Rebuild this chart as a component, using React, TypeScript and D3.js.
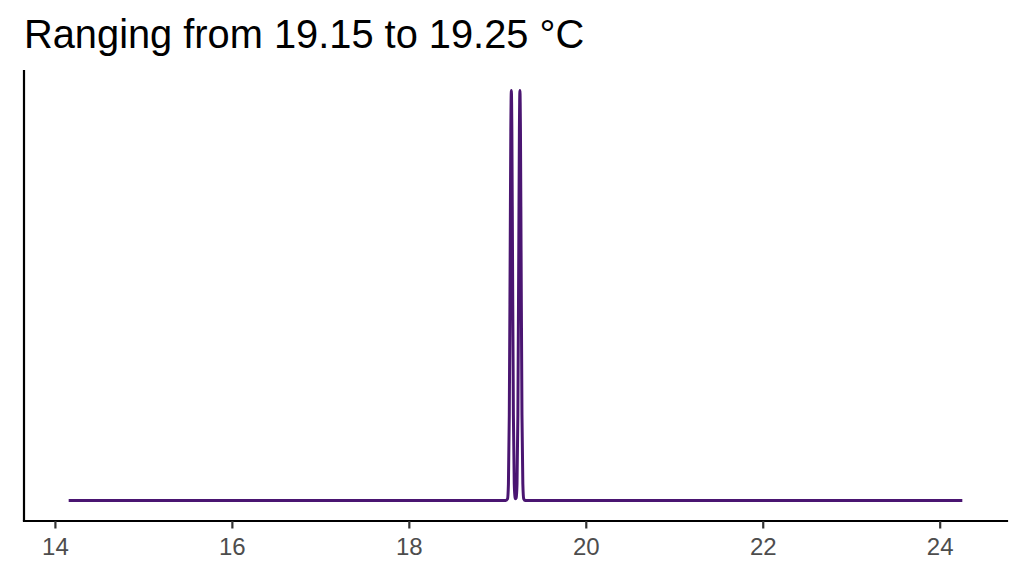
import React from 'react';
import * as d3 from 'd3';

// density curve (temperature in °C, density relative to peak)
const temps = [
  14.15, 19.09, 19.11, 19.12, 19.13, 19.14, 19.147, 19.153, 19.159, 19.166, 19.176, 19.186, 19.196,
  19.2, 19.207, 19.217, 19.227, 19.237, 19.244, 19.25, 19.256, 19.263, 19.273, 19.283, 19.293, 19.31,
  24.25,
];
const density = [
  0, 0, 0.004, 0.04, 0.21, 0.61, 0.9, 1.0, 0.9, 0.61, 0.21, 0.04, 0.006,
  0.004, 0.006, 0.04, 0.21, 0.61, 0.9, 1.0, 0.9, 0.61, 0.21, 0.04, 0.004, 0,
  0,
];
const xTicks = [14, 16, 18, 20, 22, 24];
const title = 'Ranging from 19.15 to 19.25 °C';

const W = 1024;
const H = 576;
const margin = { top: 70, right: 17, bottom: 55, left: 24 };

const App: React.FC = () => {
  const innerW = W - margin.left - margin.right;
  const innerH = H - margin.top - margin.bottom;

  const [xMin, xMax] = d3.extent(temps) as [number, number];
  const xPad = (xMax - xMin) * 0.05;
  const x = d3.scaleLinear().domain([xMin - xPad, xMax + xPad]).range([0, innerW]);
  const yMax = d3.max(density)!;
  const y = d3.scaleLinear().domain([-0.05 * yMax, 1.05 * yMax]).range([innerH, 0]);

  const points = temps.map((t, i) => ({ t, d: density[i] }));
  const line = d3
    .line<{ t: number; d: number }>()
    .x(p => x(p.t))
    .y(p => y(p.d))
    .curve(d3.curveMonotoneX);

  return (
    <div style={{ position: 'fixed', left: 0, top: 0 }}>
      <svg width={W} height={H} style={{ background: 'white', display: 'block' }}>
        <text
          x={margin.left}
          y={48}
          fontFamily="'Liberation Sans', Arial, sans-serif"
          fontSize={39.8}
          fill="#000"
        >
          {title}
        </text>
        <g transform={`translate(${margin.left},${margin.top})`}>
          <path d={line(points) ?? ''} fill="none" stroke="#4a1571" strokeWidth={3} strokeLinejoin="round" />
          <line x1={0} x2={0} y1={0} y2={innerH} stroke="#000" strokeWidth={2.2} />
          <line x1={0} x2={innerW} y1={innerH} y2={innerH} stroke="#000" strokeWidth={2.2} strokeLinecap="square" />
          {xTicks.map(t => (
            <g key={t} transform={`translate(${x(t)},${innerH})`}>
              <line y1={0} y2={7.5} stroke="#333" strokeWidth={2.2} />
              <text
                y={33.5}
                textAnchor="middle"
                fontFamily="'Liberation Sans', Arial, sans-serif"
                fontSize={24}
                fill="#4D4D4D"
              >
                {t}
              </text>
            </g>
          ))}
        </g>
      </svg>
    </div>
  );
};

export default App;
